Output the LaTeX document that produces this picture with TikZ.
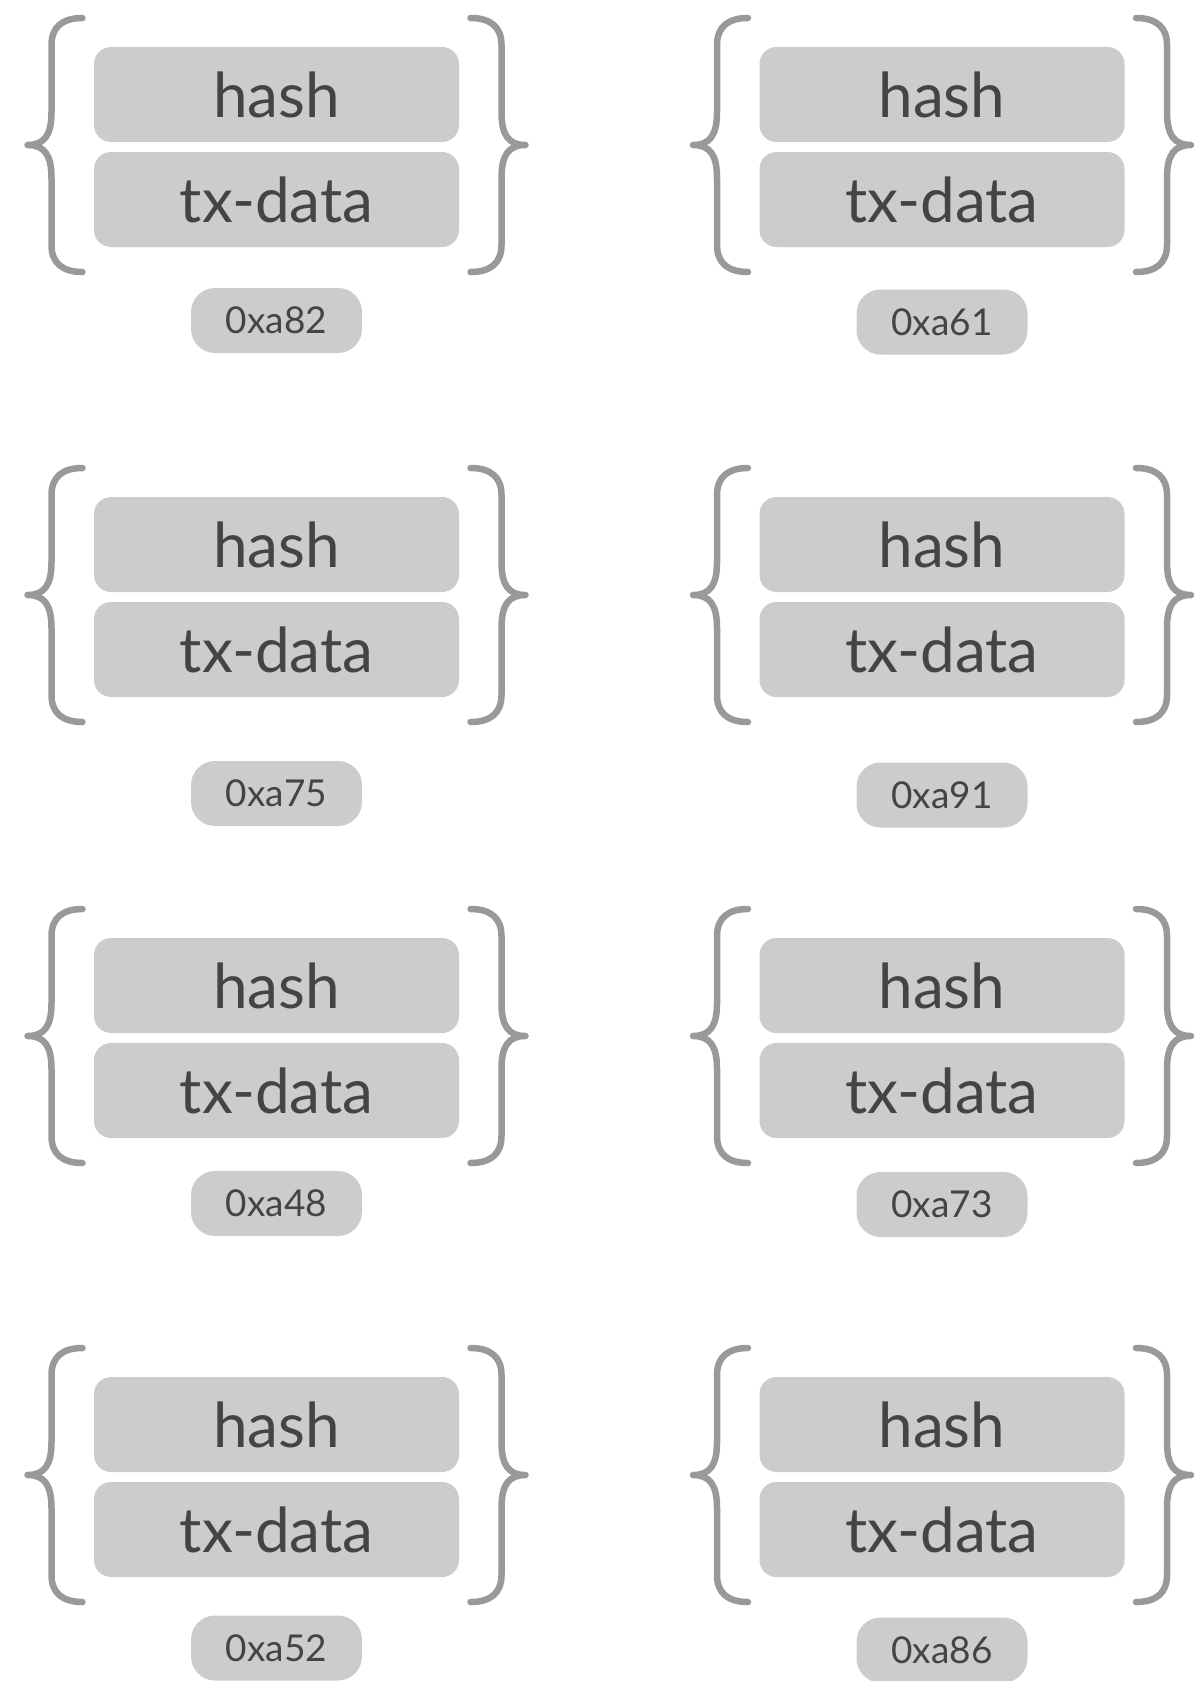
\documentclass[tikz,border=0pt]{standalone}
\usepackage{fontspec}
\setmainfont{Lato}
\definecolor{boxgray}{HTML}{CCCCCC}
\definecolor{bracegray}{HTML}{999999}
\definecolor{txtgray}{HTML}{444444}
\tikzset{
  field/.style={fill=boxgray, rounded corners=17pt, minimum width=365pt, minimum height=95pt,
    text=txtgray, font=\fontsize{62}{68}\selectfont, inner sep=0pt},
  addr/.style={fill=boxgray, rounded corners=24pt, minimum width=171pt, minimum height=65pt,
    text=txtgray, font=\fontsize{37}{40}\selectfont, inner sep=0pt},
  bracestroke/.style={draw=bracegray, line width=6.5pt, line cap=round, line join=round}
}
\newcommand{\txblock}[5]{%
  \begin{scope}[shift={(#2,#3)}]
    \node[field] (#1-hash) at (0,47.5) {hash};
    \node[field] (#1-data) at (0,152.5) {tx-data};
    \draw[bracestroke] (-194,-29) .. controls (-214,-29) and (-225,-20) .. (-225,-2)
      -- (-225,65) .. controls (-225,88) and (-232,98) .. (-249,98)
      .. controls (-232,98) and (-225,108) .. (-225,131)
      -- (-225,198) .. controls (-225,216) and (-214,225) .. (-194,225);
    \draw[bracestroke] (194,-29) .. controls (214,-29) and (225,-20) .. (225,-2)
      -- (225,65) .. controls (225,88) and (232,98) .. (249,98)
      .. controls (232,98) and (225,108) .. (225,131)
      -- (225,198) .. controls (225,216) and (214,225) .. (194,225);
  \end{scope}
  \node[addr] (#1-addr) at (#2,#4) {#5};
}
\begin{document}
\begin{tikzpicture}[x=1pt,y=-1pt]
  \useasboundingbox (0,0) rectangle (1195,1681);
  \txblock{a}{276.5}{47}{320.5}{0xa82}
  \txblock{b}{942}{47}{322}{0xa61}
  \txblock{c}{276.5}{497}{793.5}{0xa75}
  \txblock{d}{942}{497}{795}{0xa91}
  \txblock{e}{276.5}{938}{1203.5}{0xa48}
  \txblock{f}{942}{938}{1204.5}{0xa73}
  \txblock{g}{276.5}{1377}{1648}{0xa52}
  \txblock{h}{942}{1377}{1650}{0xa86}
\end{tikzpicture}
\end{document}
